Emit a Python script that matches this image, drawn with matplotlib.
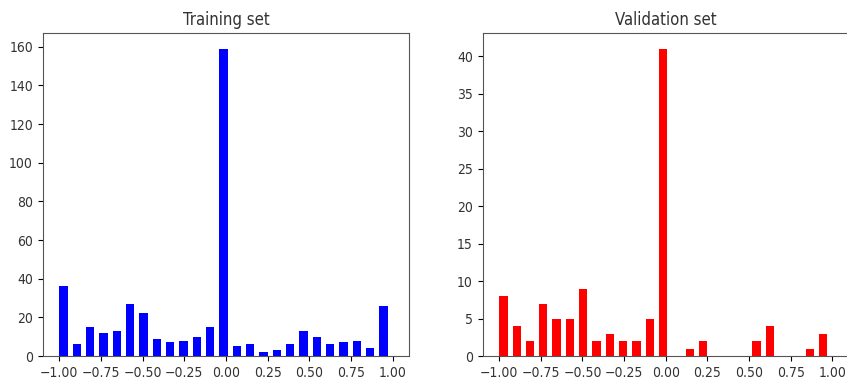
import numpy as np
import matplotlib
matplotlib.use("Agg")
import matplotlib.pyplot as plt

plt.rcParams["font.stretch"] = "condensed"

# histogram counts, 25 bins of width 0.08 over [-1, 1]
bin_edges = np.linspace(-1.0, 1.0, 26)
train_counts = [36, 6, 15, 12, 13, 27, 22, 9, 7, 8, 10, 15, 159,
                5, 6, 2, 3, 6, 13, 10, 6, 7, 8, 4, 26]
val_counts = [8, 4, 2, 7, 5, 5, 9, 2, 3, 2, 2, 5, 41,
              0, 1, 2, 0, 0, 0, 2, 4, 0, 0, 1, 3]
titles = ["Training set", "Validation set"]
colors = ["blue", "red"]

fig, axes = plt.subplots(1, 2, figsize=(8.47, 3.85), dpi=100)
fig.subplots_adjust(left=0.0504, right=1.0024, bottom=0.0753, top=0.9135, wspace=0.2)

for ax, counts, title, color in zip(axes, [train_counts, val_counts], titles, colors):
    ax.bar(bin_edges[:-1], counts, width=0.05, align="edge", color=color)
    ax.set_title(title, fontsize=12, color="#333333")
    ax.set_xlim(-1.1, 1.1)
    ax.set_xticks([-1.0, -0.75, -0.5, -0.25, 0.0, 0.25, 0.5, 0.75, 1.0])
    ax.tick_params(labelsize=10, labelcolor="#333333")
    for s in ax.spines.values():
        s.set_edgecolor("#555555")

plt.savefig("out.png", dpi=100, facecolor="white")
